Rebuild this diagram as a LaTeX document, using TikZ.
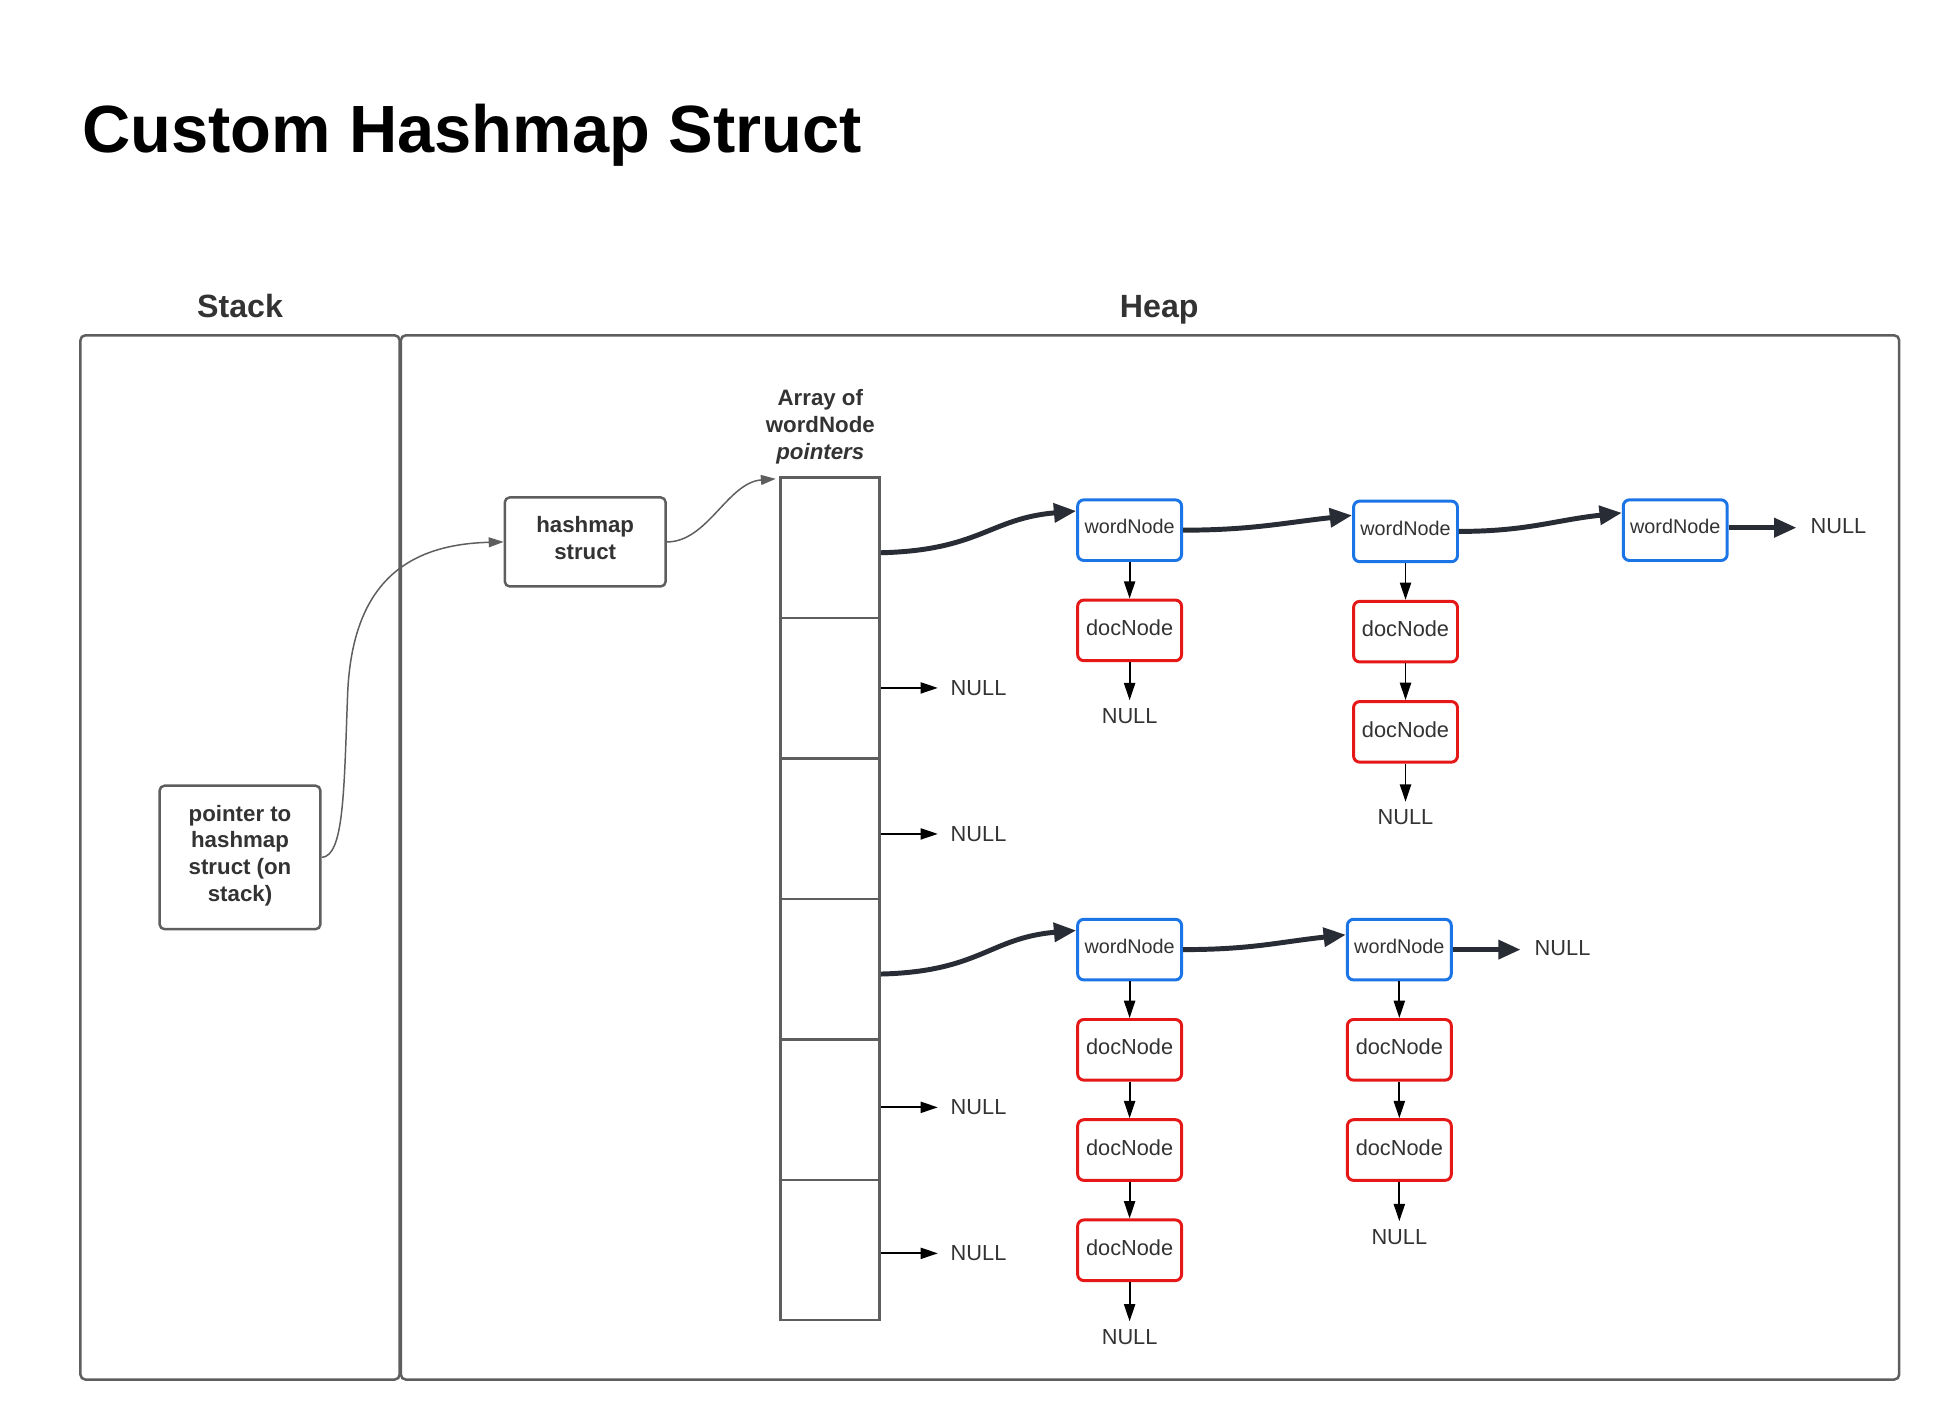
\documentclass[tikz,border=0pt]{standalone}
\usepackage{fontspec}
\setmainfont{Liberation Sans}
\usetikzlibrary{arrows.meta,calc}
\definecolor{txt}{HTML}{333333}
\definecolor{framegray}{HTML}{5E5E5E}
\definecolor{wblue}{HTML}{1C75E6}
\definecolor{dred}{HTML}{E61717}
\definecolor{thickc}{HTML}{282C34}
\tikzset{
  frame/.style={draw=framegray, line width=1pt, rounded corners=2pt, inner sep=0pt},
  graybox/.style={draw=framegray, line width=1pt, rounded corners=2pt, text=txt, align=center,
    font=\fontsize{9}{10.85}\selectfont\bfseries, inner sep=0pt},
  cellbox/.style={draw=framegray, line width=1pt, minimum width=40pt, minimum height=56.75pt, inner sep=0pt},
  wnode/.style={draw=wblue, line width=1.2pt, rounded corners=2.5pt, minimum width=42pt, minimum height=24.5pt,
    inner sep=0pt, text=txt, font=\fontsize{8}{9}\selectfont, text depth=2.8pt},
  dnode/.style={draw=dred, line width=1.2pt, rounded corners=2.5pt, minimum width=42pt, minimum height=24.5pt,
    inner sep=0pt, text=txt, font=\fontsize{8.8}{10}\selectfont, text depth=2.2pt},
  nulltxt/.style={text=txt, font=\fontsize{8.8}{10}\selectfont},
  nullright/.style={nulltxt, anchor=west, inner xsep=5pt, inner ysep=1pt},
  nulldown/.style={nulltxt, anchor=north, inner ysep=3pt, inner xsep=1pt},
  thinarr/.style={draw=black, line width=0.75pt, -{Triangle[length=7pt,width=4.5pt]}},
  thickarr/.style={draw=thickc, line width=2pt, -{Triangle[length=9pt,width=7.5pt]}},
  grayarr/.style={draw=framegray, line width=0.6pt, -{Triangle[length=6pt,width=4pt]}},
  heading/.style={text=txt, font=\fontsize{13}{15}\selectfont\bfseries, inner sep=0pt, anchor=base},
}
\begin{document}
\begin{tikzpicture}[x=0.5pt,y=-0.5pt]
\useasboundingbox (0,0) rectangle (1568,1148);
\fill[white] (0,0) rectangle (1568,1148);

% title
\node[anchor=base west, inner sep=0pt, font=\fontsize{27}{30}\selectfont\bfseries, text=black] (title) at (66,123) {Custom Hashmap Struct};

% containers
\node[heading] (stacklbl) at (194,257) {Stack};
\node[heading] (heaplbl) at (937,257) {Heap};
\node[frame, minimum width=129pt, minimum height=422pt] (stack) at (194,693) {};
\node[frame, minimum width=605.5pt, minimum height=422pt] (heap) at (929.5,693) {};

% stack / struct boxes
\node[graybox, minimum width=65pt, minimum height=58pt, text depth=3.4pt] (ptr) at (194,693) {pointer to\\hashmap\\struct (on\\stack)};
\node[graybox, minimum width=65pt, minimum height=36pt, text depth=3pt] (hm) at (473,438) {hashmap\\struct};

% array
\node[text=txt, align=center, font=\fontsize{9}{11}\selectfont\bfseries, inner sep=0pt] (arrlbl) at (663,345)
  {Array of\\wordNode\\\textit{pointers}};
\foreach \i in {1,...,6}{
  \node[cellbox] (cell\i) at (671,{386+(\i-0.5)*113.5}) {};
}

% word nodes
\node[wnode] (wn1) at (913,428.5) {wordNode};
\node[wnode] (wn2) at (1136,429.5) {wordNode};
\node[wnode] (wn3) at (1354,428.5) {wordNode};
\node[wnode] (wn4) at (913,767.5) {wordNode};
\node[wnode] (wn5) at (1131,767.5) {wordNode};

% doc nodes
\node[dnode] (dn1a) at (913,509.5) {docNode};
\node[dnode] (dn2a) at (1136,510.5) {docNode};
\node[dnode] (dn2b) at (1136,591.5) {docNode};
\node[dnode] (dn4a) at (913,848.5) {docNode};
\node[dnode] (dn4b) at (913,929.5) {docNode};
\node[dnode] (dn4c) at (913,1010.5) {docNode};
\node[dnode] (dn5a) at (1131,848.5) {docNode};
\node[dnode] (dn5b) at (1131,929.5) {docNode};

% NULL labels
\node[nullright] (nc2) at (758,556) {NULL};
\node[nullright] (nc3) at (758,674) {NULL};
\node[nullright] (nc5) at (758,895) {NULL};
\node[nullright] (nc6) at (758,1013) {NULL};
\node[nullright, inner xsep=5.5pt] (nw3) at (1452,425) {NULL};
\node[nullright, inner xsep=5.5pt] (nw5) at (1229,766.5) {NULL};
\node[nulldown] (nd1) at (913,566) {NULL};
\node[nulldown] (nd2) at (1136,648) {NULL};
\node[nulldown] (nd4) at (913,1068) {NULL};
\node[nulldown] (nd5) at (1131,987) {NULL};

% gray connectors
\coordinate (m1) at (281,560);
\draw[grayarr] (ptr.east) .. controls (278,692) and (278,640) .. (m1)
  .. controls (285,470) and (330,440) .. (hm.west);
\draw[grayarr] (hm.east) .. controls (572,438) and (588,390) .. ([xshift=-1.5pt,yshift=-1pt]cell1.north west);

% array cell -> NULL
\draw[thinarr] (cell2.east |- nc2.west) -- (nc2.west);
\draw[thinarr] (cell3.east |- nc3.west) -- (nc3.west);
\draw[thinarr] (cell5.east |- nc5.west) -- (nc5.west);
\draw[thinarr] (cell6.east |- nc6.west) -- (nc6.west);

% thick chains
\draw[thickarr] ([yshift=-2pt]cell1.east) .. controls +(80,-2) and +(-70,6) .. ([yshift=7.75pt]wn1.west);
\draw[thickarr] (wn1.east) .. controls +(55,0) and +(-55,6) .. ([yshift=6.5pt]wn2.west);
\draw[thickarr] (wn2.east) .. controls +(55,0) and +(-55,6) .. ([yshift=7pt]wn3.west);
\draw[thickarr] ([yshift=1pt]wn3.east) -- ([yshift=1pt]wn3.east -| nw3.west);
\draw[thickarr] ([yshift=-2pt]cell4.east) .. controls +(80,-2) and +(-70,6) .. ([yshift=7.75pt]wn4.west);
\draw[thickarr] (wn4.east) .. controls +(55,0) and +(-55,6) .. ([yshift=6pt]wn5.west);
\draw[thickarr] (wn5.east) -- (wn5.east -| nw5.west);

% vertical thin arrows
\draw[thinarr] (wn1.south) -- (dn1a.north);
\draw[thinarr] (dn1a.south) -- (nd1.north);
\draw[thinarr] (wn2.south) -- (dn2a.north);
\draw[thinarr] (dn2a.south) -- (dn2b.north);
\draw[thinarr] (dn2b.south) -- (nd2.north);
\draw[thinarr] (wn4.south) -- (dn4a.north);
\draw[thinarr] (dn4a.south) -- (dn4b.north);
\draw[thinarr] (dn4b.south) -- (dn4c.north);
\draw[thinarr] (dn4c.south) -- (nd4.north);
\draw[thinarr] (wn5.south) -- (dn5a.north);
\draw[thinarr] (dn5a.south) -- (dn5b.north);
\draw[thinarr] (dn5b.south) -- (nd5.north);
\end{tikzpicture}
\end{document}
